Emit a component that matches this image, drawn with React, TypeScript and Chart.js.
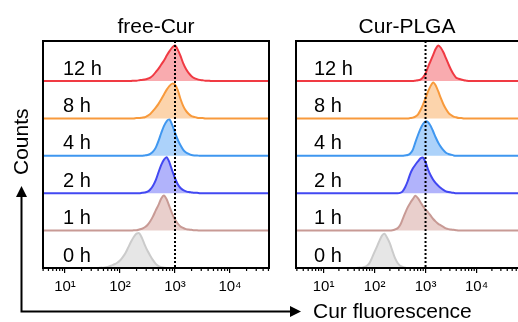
import React, { useEffect, useRef } from "react";
import { Chart, registerables } from "chart.js";

Chart.register(...registerables);

const W = 518;
const H = 322;
const FONT = '"Liberation Sans", Arial, Helvetica, sans-serif';

const timeLabels = ["0 h", "1 h", "2 h", "4 h", "8 h", "12 h"];
const panelTitles = ["free-Cur", "Cur-PLGA"];
const tickValues = [10, 100, 1000, 10000];
const tickLabels = ["10\u00b9", "10\u00b2", "10\u00b3", "10\u2074"];
const markerValue = 1000;
const xAxisTitle = "Cur fluorescence";
const yAxisTitle = "Counts";

// log10 of fluorescence bin centres
const binLog = [
  1.6, 1.65, 1.7, 1.75, 1.8, 1.85, 1.9, 1.95, 2.0, 2.05, 2.1, 2.15, 2.2, 2.25, 2.3, 2.35,
  2.4, 2.45, 2.5, 2.55, 2.6, 2.65, 2.7, 2.75, 2.8, 2.85, 2.9, 2.95, 3.0, 3.05, 3.1, 3.15,
  3.2, 3.25, 3.3, 3.35, 3.4, 3.45, 3.5, 3.55, 3.6, 3.65, 3.7, 3.75, 3.8, 3.85,
];

// free-Cur, % of row height
const free0h = [0, 1, 1, 2, 4, 7, 10, 14, 20, 29, 40, 55, 70, 83, 92, 93, 80, 62, 46, 33, 21, 11, 5, 2, 1, 0, 0, 0, 0, 0, 0, 0, 0, 0, 0, 0, 0, 0, 0, 0, 0, 0, 0, 0, 0, 0];
const free1h = [0, 0, 0, 0, 0, 0, 0, 0, 0, 0, 0, 0, 0, 1, 1, 3, 5, 9, 15, 25, 38, 54, 69, 86, 94, 83, 64, 45, 30, 19, 11, 7, 4, 3, 2, 1, 1, 0, 0, 0, 0, 0, 0, 0, 0, 0];
const free2h = [0, 0, 0, 0, 0, 0, 0, 0, 0, 0, 0, 0, 0, 0, 0, 0, 1, 2, 4, 10, 20, 35, 56, 76, 90, 96, 82, 60, 40, 24, 14, 8, 5, 3, 2, 1, 1, 0, 0, 0, 0, 0, 0, 0, 0, 0];
const free4h = [0, 0, 0, 0, 0, 0, 0, 0, 0, 0, 0, 0, 0, 0, 0, 0, 0, 1, 2, 5, 11, 22, 40, 61, 80, 93, 97, 82, 62, 43, 28, 16, 9, 5, 2, 1, 1, 0, 0, 0, 0, 0, 0, 0, 0, 0];
const free8h = [0, 0, 0, 0, 0, 0, 0, 0, 0, 0, 0, 0, 0, 0, 1, 1, 2, 3, 7, 12, 20, 29, 39, 51, 64, 77, 87, 93, 90, 76, 52, 33, 20, 12, 6, 4, 2, 1, 1, 0, 0, 0, 0, 0, 0, 0];
const free12h = [0, 0, 0, 0, 0, 0, 0, 0, 0, 0, 0, 0, 0, 1, 1, 2, 3, 4, 6, 9, 15, 24, 33, 44, 55, 68, 80, 90, 95, 84, 67, 47, 32, 21, 13, 8, 5, 3, 2, 1, 1, 0, 0, 0, 0, 0];

// Cur-PLGA, % of row height
const plga0h = [0, 0, 1, 1, 3, 6, 13, 27, 43, 58, 74, 87, 91, 80, 66, 46, 27, 14, 6, 3, 1, 0, 0, 0, 0, 0, 0, 0, 0, 0, 0, 0, 0, 0, 0, 0, 0, 0, 0, 0, 0, 0, 0, 0, 0, 0];
const plga1h = [0, 0, 0, 0, 0, 0, 0, 0, 0, 0, 0, 0, 0, 0, 0, 1, 3, 6, 14, 30, 47, 62, 74, 84, 93, 87, 76, 65, 56, 49, 40, 31, 24, 18, 14, 10, 6, 4, 3, 2, 1, 0, 0, 0, 0, 0];
const plga2h = [0, 0, 0, 0, 0, 0, 0, 0, 0, 0, 0, 0, 0, 0, 0, 0, 0, 0, 1, 5, 16, 32, 52, 66, 76, 85, 93, 95, 83, 63, 48, 36, 27, 20, 14, 9, 5, 3, 2, 1, 0, 0, 0, 0, 0, 0];
const plga4h = [0, 0, 0, 0, 0, 0, 0, 0, 0, 0, 0, 0, 0, 0, 0, 0, 0, 0, 0, 0, 1, 2, 6, 16, 36, 55, 72, 85, 92, 90, 80, 65, 49, 35, 24, 15, 8, 5, 3, 1, 0, 0, 0, 0, 0, 0];
const plga8h = [0, 0, 0, 0, 0, 0, 0, 0, 0, 0, 0, 0, 0, 0, 0, 0, 0, 0, 0, 0, 0, 0, 1, 2, 5, 10, 22, 37, 54, 72, 87, 96, 88, 72, 54, 38, 25, 15, 9, 5, 3, 1, 1, 0, 0, 0];
const plga12h = [0, 0, 0, 0, 0, 0, 0, 0, 0, 0, 0, 0, 0, 0, 0, 0, 0, 0, 0, 0, 0, 0, 0, 0, 1, 2, 4, 10, 20, 38, 54, 70, 86, 95, 89, 77, 61, 45, 30, 18, 9, 6, 4, 2, 1, 0];

const lineColors = ["#cbcbcb", "#c89a95", "#4248f2", "#3f97f0", "#f89a3c", "#f03a43"];
const fillColors = ["#e6e6e6", "#e9cfcc", "#b1b3fb", "#acd2fa", "#fcd4ac", "#f9abaf"];

const panels = [
  { title: panelTitles[0], series: [free0h, free1h, free2h, free4h, free8h, free12h], padLeft: 43, padRight: 249, logMin: 0.6, logMax: 4.709, drawRight: true, labelOffset: 20, axisDeco: true },
  { title: panelTitles[1], series: [plga0h, plga1h, plga2h, plga4h, plga8h, plga12h], padLeft: 296, padRight: 0, logMin: 0.46, logMax: 4.813, drawRight: false, labelOffset: 18, axisDeco: false },
];

const panelPlugin = {
  id: "panelDeco",
  afterDatasetsDraw(chart: any, _args: any, opts: any) {
    const { ctx, chartArea: a, scales } = chart;
    const xs = scales.x;
    const ys = scales.y;
    ctx.save();
    // marker line at 10^3
    const mx = xs.getPixelForValue(markerValue);
    ctx.strokeStyle = "#000";
    ctx.lineWidth = 2;
    ctx.setLineDash([2, 2]);
    ctx.beginPath();
    ctx.moveTo(mx, a.top);
    ctx.lineTo(mx, a.bottom);
    ctx.stroke();
    ctx.setLineDash([]);
    // frame
    ctx.lineWidth = 2;
    ctx.beginPath();
    ctx.moveTo(a.left, a.bottom);
    ctx.lineTo(a.left, a.top - 1);
    ctx.moveTo(a.left - 1, a.top);
    ctx.lineTo(a.right + 1, a.top);
    if (opts.drawRight) {
      ctx.moveTo(a.right, a.top);
      ctx.lineTo(a.right, a.bottom);
    }
    ctx.moveTo(a.left - 1, a.bottom);
    ctx.lineTo(a.right + 1, a.bottom);
    ctx.stroke();
    // minor ticks
    ctx.lineWidth = 1.2;
    ctx.beginPath();
    for (let e = 0; e <= 5; e++) {
      for (let m = 2; m <= 9; m++) {
        const v = m * Math.pow(10, e);
        if (v <= xs.min || v >= xs.max) continue;
        const px = xs.getPixelForValue(v);
        ctx.moveTo(px, a.bottom);
        ctx.lineTo(px, a.bottom + 3);
      }
    }
    ctx.stroke();
    // row labels
    ctx.fillStyle = "#000";
    ctx.font = `20px ${FONT}`;
    ctx.textAlign = "left";
    ctx.textBaseline = "alphabetic";
    timeLabels.forEach((t, i) => {
      ctx.fillText(t, a.left + opts.labelOffset, ys.getPixelForValue(i) - 6.5);
    });
    // title
    ctx.font = `21px ${FONT}`;
    ctx.textAlign = "center";
    ctx.fillText(opts.title, (a.left + a.right) / 2, 33);

    if (opts.axisDeco) {
      ctx.strokeStyle = "#000";
      ctx.fillStyle = "#000";
      ctx.lineWidth = 2;
      ctx.beginPath();
      ctx.moveTo(21.5, 195);
      ctx.lineTo(21.5, 311.5);
      ctx.lineTo(291, 311.5);
      ctx.stroke();
      ctx.beginPath();
      ctx.moveTo(21.5, 186);
      ctx.lineTo(16, 197);
      ctx.lineTo(27, 197);
      ctx.closePath();
      ctx.fill();
      ctx.beginPath();
      ctx.moveTo(301, 311.5);
      ctx.lineTo(290, 306);
      ctx.lineTo(290, 317);
      ctx.closePath();
      ctx.fill();
      ctx.font = `21px ${FONT}`;
      ctx.textAlign = "left";
      ctx.fillText(xAxisTitle, 313, 317.5);
      ctx.save();
      ctx.translate(27.5, 175);
      ctx.rotate(-Math.PI / 2);
      ctx.fillText(yAxisTitle, 0, 0);
      ctx.restore();
    }
    ctx.restore();
  },
};

function Panel({ index }: { index: number }) {
  const ref = useRef<HTMLCanvasElement | null>(null);
  useEffect(() => {
    const p = panels[index];
    const datasets = p.series.map((counts, row) => ({
      label: timeLabels[row],
      data: [
        { x: 1, y: row },
        ...binLog.map((l, i) => ({ x: Math.pow(10, l), y: row + counts[i] / 100 })),
        { x: 100000, y: row },
      ],
      borderColor: lineColors[row],
      backgroundColor: fillColors[row],
      borderWidth: 2,
      pointRadius: 0,
      tension: 0.25,
      fill: { value: row },
    }));
    const chart = new Chart(ref.current as HTMLCanvasElement, {
      type: "line",
      data: { datasets },
      options: {
        responsive: false,
        animation: false,
        events: [],
        layout: { padding: { left: p.padLeft, right: p.padRight, top: 41, bottom: 0 } },
        plugins: {
          legend: { display: false },
          tooltip: { enabled: false },
          panelDeco: { title: p.title, drawRight: p.drawRight, labelOffset: p.labelOffset, axisDeco: p.axisDeco },
        } as any,
        scales: {
          x: {
            type: "logarithmic",
            min: Math.pow(10, p.logMin),
            max: Math.pow(10, p.logMax),
            afterFit: (s: any) => {
              s.height = 54;
            },
            afterBuildTicks: (s: any) => {
              s.ticks = tickValues.map((v) => ({ value: v, major: true }));
            },
            ticks: {
              autoSkip: false,
              maxRotation: 0,
              padding: 5,
              color: "#000",
              font: { size: 15, family: FONT },
              callback: (_v: any, i: number) => tickLabels[i],
            },
            grid: { display: true, drawOnChartArea: false, drawTicks: true, tickLength: 5, color: "#000", lineWidth: 1.2 },
            border: { display: false },
          },
          y: { display: false, min: 0, max: 6.07 },
        },
      } as any,
      plugins: [panelPlugin],
    });
    return () => chart.destroy();
  }, [index]);
  return <canvas ref={ref} width={W} height={H} style={{ position: "absolute", left: 0, top: 0, width: W, height: H }} />;
}

export default function App() {
  return (
    <div style={{ position: "fixed", left: 0, top: 0, width: W, height: H, overflow: "hidden", background: "#fff" }}>
      <Panel index={0} />
      <Panel index={1} />
    </div>
  );
}
